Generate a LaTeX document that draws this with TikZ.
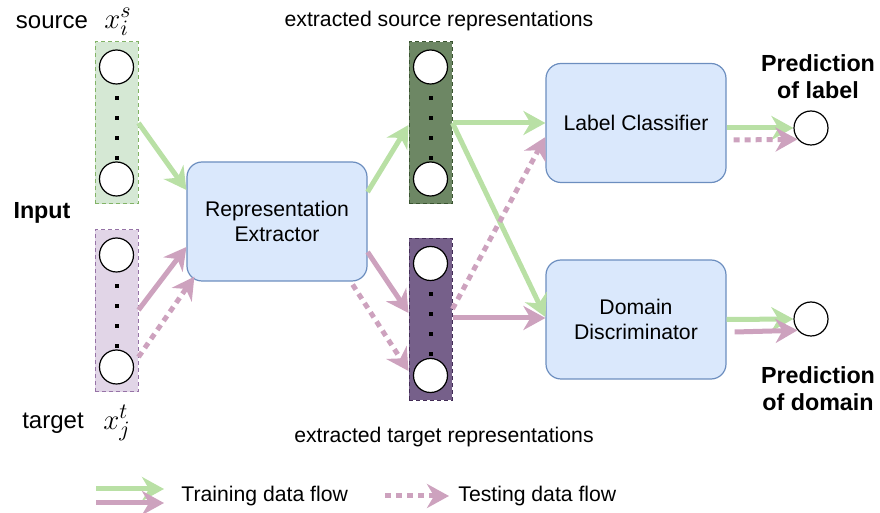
\documentclass[tikz,border=0pt]{standalone}
\usepackage{fontspec}
\setmainfont{Liberation Sans}
\usetikzlibrary{arrows.meta,calc}
\definecolor{gline}{HTML}{B9E0A5}
\definecolor{pline}{HTML}{CDA2BE}
\definecolor{srcF}{HTML}{D5E8D4}
\definecolor{srcB}{HTML}{82B366}
\definecolor{tgtF}{HTML}{E1D5E7}
\definecolor{tgtB}{HTML}{9673A6}
\definecolor{esF}{HTML}{6D8764}
\definecolor{esB}{HTML}{3A5431}
\definecolor{etF}{HTML}{76608A}
\definecolor{etB}{HTML}{432D57}
\definecolor{blueF}{HTML}{DAE8FC}
\definecolor{blueB}{HTML}{6C8EBF}
\begin{document}
\begin{tikzpicture}[x=0.5pt,y=-0.5pt,
  col/.style={draw, dash pattern=on 2pt off 1.5pt, line width=0.5pt, minimum width=21.5pt, minimum height=81pt, inner sep=0pt},
  unit/.style={circle, draw=black, fill=white, line width=0.6pt, minimum size=17pt, inner sep=0pt},
  blk/.style={rounded corners=7.5pt, draw=blueB, fill=blueF, line width=0.6pt, minimum width=90pt, minimum height=59.5pt, align=center, font=\fontsize{10.6}{12.7}\selectfont},
  txt/.style={font=\fontsize{10.6}{12.7}\selectfont, inner sep=0pt},
  big/.style={font=\fontsize{12}{14}\selectfont, inner sep=0pt},
  mth/.style={font=\fontsize{15}{18}\selectfont, inner sep=0pt},
  bld/.style={font=\fontsize{11.65}{13.5}\selectfont\bfseries, align=center, inner sep=0pt},
  flowG/.style={draw=gline, line width=2.5pt, -{Stealth[length=11pt,width=12pt,inset=3.5pt]}},
  flowP/.style={draw=pline, line width=2.5pt, -{Stealth[length=11pt,width=12pt,inset=3.5pt]}},
  flowPd/.style={flowP, dash pattern=on 3pt off 2.5pt}
]
\useasboundingbox (0,0) rectangle (880,513);

% columns
\foreach \n/\cx/\cy/\f/\d in {src/116.5/123/srcF/srcB, tgt/116.5/311/tgtF/tgtB, esrc/430.5/123/esF/esB, etgt/430.5/319.5/etF/etB} {
  \node[col, fill=\f, draw=\d] (\n) at (\cx,\cy) {};
  \foreach \o in {-25,-5,15,35} \fill (\cx-2,\cy+\o-2) rectangle (\cx+2,\cy+\o+2);
  \node[unit] (\n-a) at (\cx,\cy-56) {};
  \node[unit] (\n-b) at (\cx,\cy+56) {};
}

% blocks
\node[blk] (rep) at (277,221.5) {Representation\\Extractor};
\node[blk] (lc) at (636,123) {Label Classifier};
\node[blk] (dd) at (636,319.5) {Domain\\Discriminator};

% outputs
\node[unit] (out1) at (811,128) {};
\node[unit] (out2) at (811,319) {};

% texts
\node[big] (tsrc) at (52,22) {source};
\node[mth] (xs) at (118,22) {$x_i^s$};
\node[bld] (tin) at (42,213) {Input};
\node[big] (ttgt) at (53,423) {target};
\node[mth] (xt) at (117,423) {$x_j^t$};
\node[txt] (tes) at (439,21) {extracted source representations};
\node[txt] (tet) at (444,437) {extracted target representations};
\node[bld] (p1) at (818,77) {Prediction\\of label};
\node[bld] (p2) at (818,389) {Prediction\\of domain};

% flows
\draw[flowG] (src.east) -- ($(rep.west)+(0,-31.5)$);
\draw[flowP] ($(tgt.east)+(0,-1)$) -- ($(rep.west)+(0,25.5)$);
\draw[flowPd] ($(tgt.east)+(0,46)$) -- ($(rep.south west)+(8,-5)$);
\draw[flowG] ($(rep.east)+(0,-29.5)$) -- ($(esrc.west)+(0,2)$);
\draw[flowP] ($(rep.east)+(0,30.5)$) -- ($(etgt.west)+(0,-6.5)$);
\draw[flowPd] ($(rep.south east)+(-15,3)$) -- ($(etgt.west)+(0,51.5)$);
\draw[flowG] (esrc.east) -- (lc.west);
\draw[flowG] (esrc.east) -- ($(dd.west)+(0,-2.5)$);
\draw[flowP] ($(etgt.east)+(0,-1.5)$) -- ($(dd.west)+(0,-1.5)$);
\draw[flowPd] ($(etgt.east)+(0,-10.5)$) -- ($(lc.west)+(0,14)$);
\draw[flowG] ($(lc.east)+(0,5)$) -- (out1.west);
\draw[flowPd] ($(lc.east)+(7,17)$) -- (out1.220);
\draw[flowG] (dd.east) -- (out2.west);
\draw[flowP] ($(dd.east)+(8,12.5)$) -- (out2.220);

% legend
\coordinate (lgA) at (96,489);
\coordinate (lgB) at (96,503);
\coordinate (lgC) at (385,496);
\node[txt, anchor=west] (ltr) at (181,496) {Training data flow};
\node[txt, anchor=west] (lte) at (458,496) {Testing data flow};
\draw[flowG] (lgA) -- ($(lgA -| ltr.west)+(-17,0)$);
\draw[flowP] (lgB) -- ($(lgB -| ltr.west)+(-17,0)$);
\draw[flowPd] (lgC) -- ($(lte.west)+(-9,0)$);
\end{tikzpicture}
\end{document}
